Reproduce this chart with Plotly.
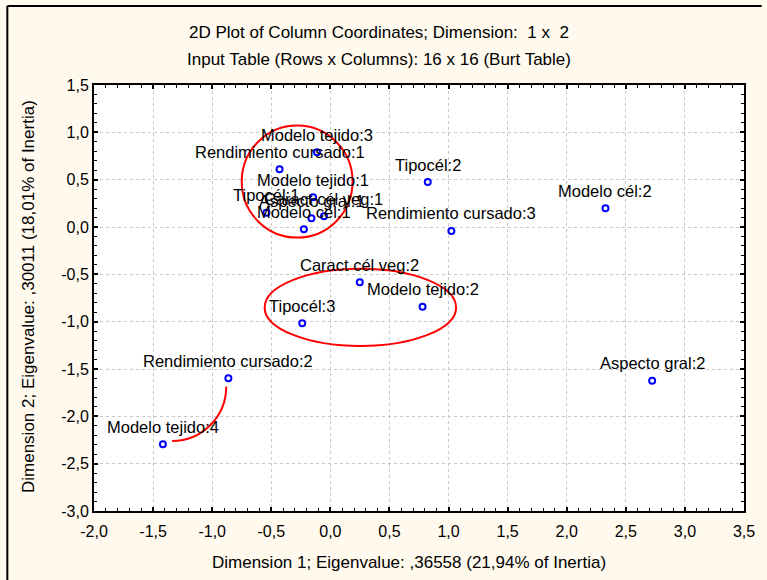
import numpy as np
import plotly.graph_objects as go

# Column coordinates (Burt table correspondence analysis), dimension 1 x 2
labels = [
    "Modelo tejido:1", "Modelo tejido:2", "Modelo tejido:3", "Modelo tejido:4",
    "Rendimiento cursado:1", "Rendimiento cursado:2", "Rendimiento cursado:3",
    "Tipocél:1", "Tipocél:2", "Tipocél:3",
    "Caract cél veg:1", "Caract cél veg:2",
    "Aspecto gral:1", "Aspecto gral:2",
    "Modelo cél:1", "Modelo cél:2",
]
dim1 = [-0.146, 0.780, -0.113, -1.417,
        -0.430, -0.863, 1.024,
        -0.541, 0.824, -0.238,
        -0.054, 0.249,
        -0.160, 2.723,
        -0.224, 2.328]
dim2 = [0.314, -0.842, 0.789, -2.295,
        0.609, -1.598, -0.042,
        0.151, 0.475, -1.017,
        0.113, -0.584,
        0.092, -1.624,
        -0.024, 0.198]

x_ticks = [-2.0, -1.5, -1.0, -0.5, 0.0, 0.5, 1.0, 1.5, 2.0, 2.5, 3.0, 3.5]
y_ticks = [1.5, 1.0, 0.5, 0.0, -0.5, -1.0, -1.5, -2.0, -2.5, -3.0]

def comma(v):
    return f"{v:.1f}".replace(".", ",")

FONT = "Arial, Liberation Sans, sans-serif"
W, H = 767, 580
L, R, T, B = 94, 13, 85, 69

fig = go.Figure()
fig.add_trace(go.Scatter(
    x=dim1, y=dim2, mode="markers",
    marker=dict(symbol="circle-open", size=6, color="#0000FF",
                line=dict(color="#0000FF", width=2)),
    showlegend=False, cliponaxis=False,
))

red = dict(color="#FF0000", width=2)
shapes = [
    # grouping ellipses
    dict(type="circle", xref="x", yref="y", x0=-0.281 - 0.469, x1=-0.281 + 0.469,
         y0=0.480 - 0.592, y1=0.480 + 0.592, line=red),
    dict(type="circle", xref="x", yref="y", x0=0.254 - 0.81, x1=0.254 + 0.81,
         y0=-0.849 - 0.408, y1=-0.849 + 0.408, line=red),
]
# quarter-ellipse arc linking two categories
cx, cy, rx, ry, k = -1.339, -1.684, 0.458, 0.576, 0.5523
shapes.append(dict(
    type="path", xref="x", yref="y", line=red,
    path=(f"M {cx+rx},{cy} C {cx+rx},{cy-k*ry} {cx+k*rx},{cy-ry} {cx},{cy-ry}"),
))
# outer frame of the graph window
pw, ph = W - L - R, H - T - B
def px2x(p):
    return (p - L) / pw
def px2y(p):
    return 1 - (p - T) / ph
shapes.append(dict(type="line", xref="paper", yref="paper",
                   x0=px2x(6), x1=px2x(W + 5), y0=px2y(6), y1=px2y(6),
                   line=dict(color="#000000", width=2)))
shapes.append(dict(type="line", xref="paper", yref="paper",
                   x0=px2x(6), x1=px2x(6), y0=px2y(6), y1=px2y(H + 5),
                   line=dict(color="#000000", width=2)))

def note(text, x, y, size, angle=0):
    return dict(text=text, xref="paper", yref="paper", x=px2x(x), y=px2y(y),
                showarrow=False, xanchor="center", yanchor="middle",
                textangle=angle,
                font=dict(family=FONT, size=size, color="#000000"))

annotations = [
    note("2D Plot of Column Coordinates; Dimension:  1 x  2", 383, 32, 17),
    note("Input Table (Rows x Columns): 16 x 16 (Burt Table)", 383, 60, 17),
    note("Dimension 1; Eigenvalue: ,36558 (21,94% of Inertia)", 414, 562, 17),
    note("Dimension 2; Eigenvalue: ,30011 (18,01% of Inertia)", 27, 297, 17, -90),
]
# point labels, centred just above each point
for lab, xv, yv in zip(labels, dim1, dim2):
    annotations.append(dict(
        text=lab, x=xv, y=yv, xref="x", yref="y", showarrow=False,
        xanchor="center", yanchor="middle", yshift=17.5,
        font=dict(family=FONT, size=16.5, color="#000000"),
    ))

axis_common = dict(
    showline=True, linecolor="#000000", linewidth=2, mirror="ticks",
    ticks="inside", ticklen=4, tickwidth=1.5, tickcolor="#000000",
    showgrid=True, gridcolor="#C8C8C8", griddash="dot", gridwidth=1,
    zeroline=False,
    tickfont=dict(family=FONT, size=16, color="#000000"),
    minor=dict(ticks="inside", ticklen=3, tickwidth=1, tickcolor="#000000",
               dtick=0.1, showgrid=False),
)

fig.update_xaxes(range=[-2.0, 3.5], tickvals=x_ticks,
                 ticktext=[comma(v) for v in x_ticks],
                 ticklabelstandoff=5, **axis_common)
fig.update_yaxes(range=[-3.0, 1.5], tickvals=y_ticks,
                 ticktext=[comma(v) for v in y_ticks],
                 **axis_common)

fig.update_layout(
    width=W, height=H,
    margin=dict(l=L, r=R, t=T, b=B),
    paper_bgcolor="#FFF9EE", plot_bgcolor="#FFFFFF",
    shapes=shapes, annotations=annotations,
    font=dict(family=FONT, color="#000000"),
)

fig.write_html("out.html")
